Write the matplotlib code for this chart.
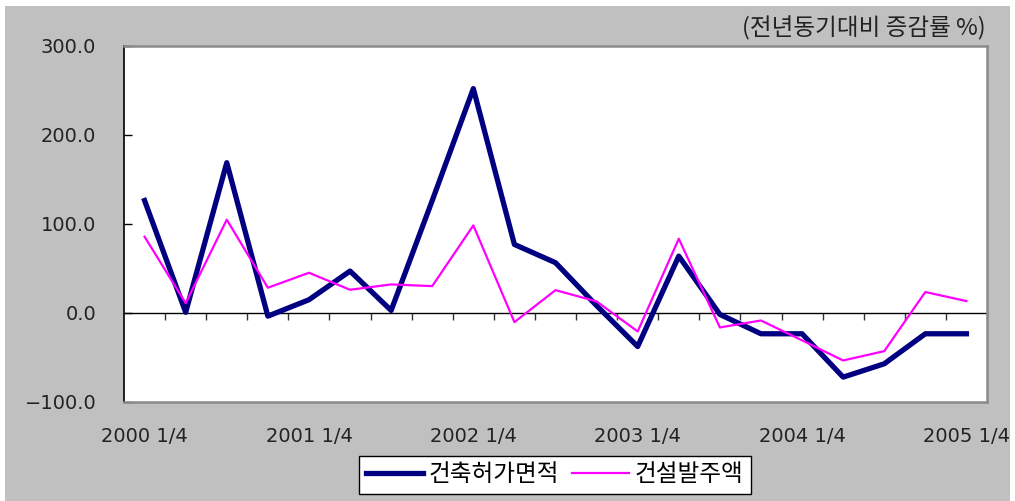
import matplotlib
matplotlib.use("Agg")
from matplotlib import pyplot as plt
from matplotlib.patches import Rectangle
import numpy as np

plt.rcParams['font.family'] = ['Noto Sans CJK KR', 'DejaVu Sans']

quarters = ['2000 1/4', '2000 2/4', '2000 3/4', '2000 4/4',
            '2001 1/4', '2001 2/4', '2001 3/4', '2001 4/4',
            '2002 1/4', '2002 2/4', '2002 3/4', '2002 4/4',
            '2003 1/4', '2003 2/4', '2003 3/4', '2003 4/4',
            '2004 1/4', '2004 2/4', '2004 3/4', '2004 4/4',
            '2005 1/4']
permit_area = [126, 0.5, 168.5, -3.8, 14.6, 46.8, 2.6, 126, 251.7, 76.7, 56.2,
               8, -37.9, 63.6, -1.9, -23.6, -23.6, -72.3, -57.3, -23.6, -23.6]
orders = [85.4, 10.8, 104.5, 28.1, 44.9, 25.8, 31.8, 29.9, 98.1, -10.5, 25.4,
          12.7, -21, 83.1, -16.5, -8.7, -31, -53.6, -43.1, 23.3, 13.1]
y_ticks = [-100, 0, 100, 200, 300]
unit_label = '(전년동기대비 증감률 %)'
series_names = ['건축허가면적', '건설발주액']

fig = plt.figure(figsize=(10.15, 5.01), dpi=100)
fig.patch.set_facecolor('white')
fig.patches.append(Rectangle((5/1015, 0), 1005/1015, 495/501, transform=fig.transFigure,
                             facecolor='#c0c0c0', edgecolor='none', zorder=-10))

ax = fig.add_axes([0.1222, 0.198, 0.8502, 0.711])
ax.set_facecolor('white')
x = np.arange(len(quarters))
ax.plot(x, permit_area, color='#000080', lw=3.8, label=series_names[0], zorder=3)
ax.plot(x, orders, color='#ff00ff', lw=1.6, label=series_names[1], zorder=4)

ymin, ymax = -100, 300
ax.set_ylim(ymin, ymax)
ax.set_xlim(-0.5, len(quarters) - 0.5)

num_font = {'family': 'DejaVu Sans', 'size': 14}
ax.set_yticks(y_ticks)
ax.set_yticklabels([('%.1f' % v).replace('-', '\u2212') for v in y_ticks], fontdict=num_font)
ax.tick_params(axis='y', direction='in', length=6, width=1, pad=20,
               labelcolor='#222222')

ax.set_xticks(x[::4])
ax.set_xticklabels(quarters[::4], fontdict=num_font)
ax.tick_params(axis='x', length=0, pad=18, labelcolor='#222222')

for side in ['top', 'right', 'bottom']:
    ax.spines[side].set_color('#8a8a8a')
    ax.spines[side].set_linewidth(1.8)
ax.spines['left'].set_color('black')
ax.spines['left'].set_linewidth(1.2)

# zero line with category tick marks
zero_pos = (0 - ymin) / (ymax - ymin)
sec = ax.secondary_xaxis(zero_pos)
sec.set_xticks(np.arange(0.5, len(quarters), 1))
sec.tick_params(axis='x', direction='in', length=5, width=1, labelbottom=False,
                labeltop=False, top=True, bottom=False, color='#333333')
sec.spines['bottom'].set_linewidth(1)
sec.spines['top'].set_linewidth(1)
sec.spines['top'].set_color('black')

fig.text(0.971, 0.944, unit_label, ha='right', va='center', fontsize=17, color='#222222')

leg = fig.legend(loc='center', bbox_to_anchor=(0.5468, 0.0519), ncol=2, fontsize=17,
                 frameon=True, fancybox=False, edgecolor='black', facecolor='white',
                 framealpha=1, handlelength=2.4, handletextpad=0.25, columnspacing=0.55,
                 borderpad=0.3, borderaxespad=0)
leg.get_frame().set_linewidth(1)

fig.savefig('out.png', dpi=100, facecolor=fig.get_facecolor())
